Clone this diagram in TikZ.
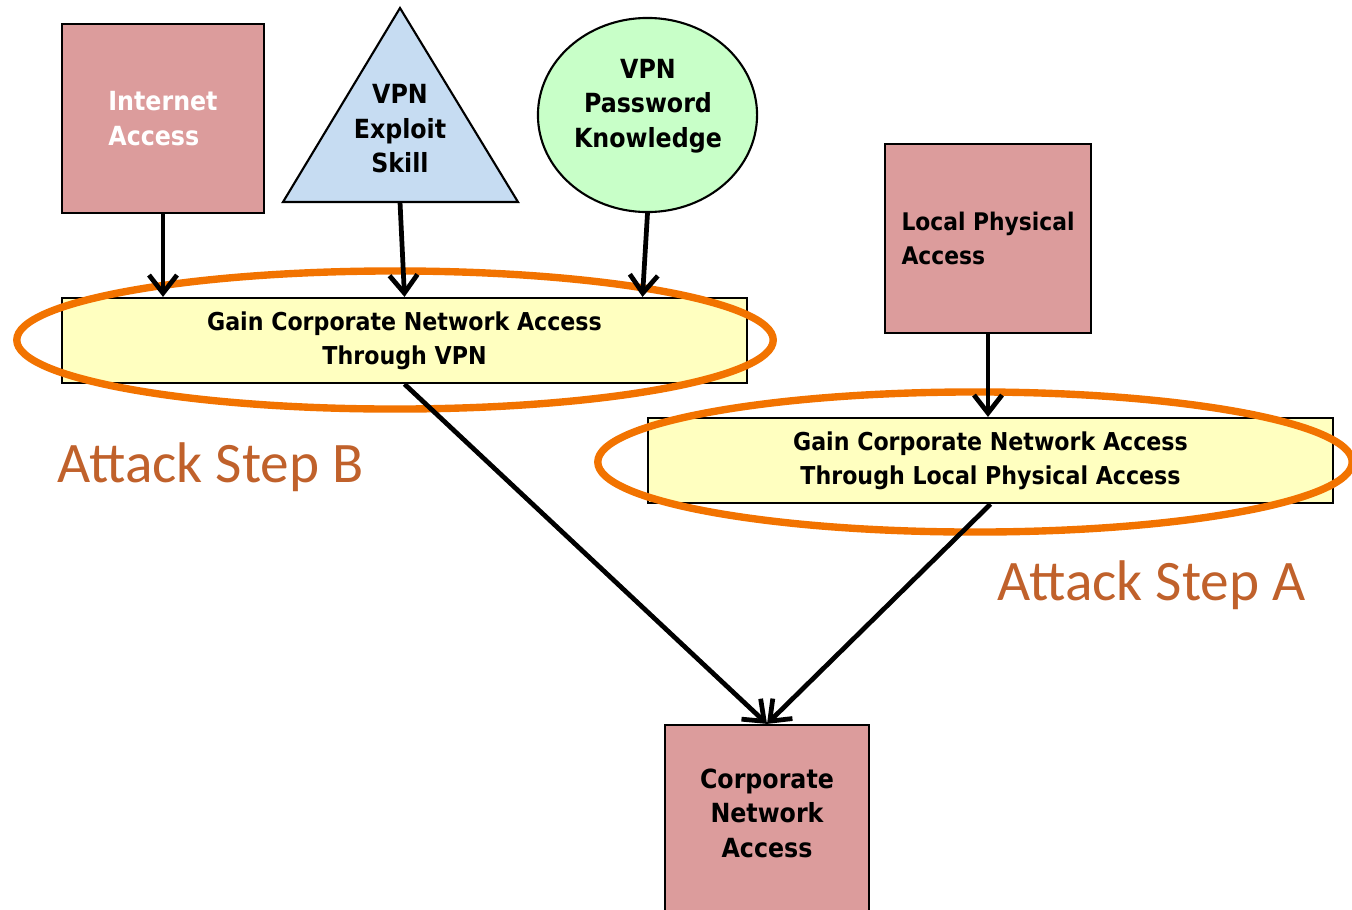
\documentclass[tikz,border=0pt]{standalone}
\usepackage{fontspec}
\usetikzlibrary{shapes.geometric,arrows.meta,calc}
\newfontfamily\labfont{DejaVu Sans Condensed}
\newfontfamily\stepfont{Carlito}
\definecolor{pinkfill}{HTML}{DC9C9C}
\definecolor{bluefill}{HTML}{C6DCF2}
\definecolor{greenfill}{HTML}{C8FFC8}
\definecolor{yellowfill}{HTML}{FFFFC0}
\definecolor{ringorange}{HTML}{F27300}
\definecolor{steptext}{HTML}{C0612B}
\tikzset{
  pinkbox/.style={draw=black, line width=0.6pt, fill=pinkfill, inner sep=0pt, align=center,
    font=\labfont\bfseries\fontsize{7.5}{9.8}\selectfont},
  stepbox/.style={draw=black, line width=0.6pt, fill=yellowfill, inner sep=0pt, align=center,
    minimum width=6.85cm, minimum height=0.85cm, font=\labfont\bfseries\fontsize{7}{9.6}\selectfont},
  shapetext/.style={inner sep=0pt, align=center, font=\labfont\bfseries\fontsize{7.5}{9.8}\selectfont},
  arr/.style={line width=1.35pt, -{Straight Barb[length=1.8mm,width=2.8mm]}},
  ring/.style={draw=ringorange, line width=2.1pt},
  steplabel/.style={anchor=base west, text=steptext, inner sep=0pt, font=\stepfont\fontsize{16.3}{20}\selectfont}
}
\begin{document}
\begin{tikzpicture}[x=0.01cm,y=-0.01cm]
\useasboundingbox (0,0) rectangle (1352,909);
% top-level nodes
\node[pinkbox, minimum width=2.02cm, minimum height=1.89cm, text=white, align=left] (inet) at (163,118.5) {Internet\\Access};
\filldraw[fill=bluefill, draw=black, line width=0.6pt] (400,8) -- (518,202) -- (283,202) -- cycle;
\coordinate (tribase) at (400,202);
\node[shapetext] (tri) at (400,129) {VPN\\Exploit\\Skill};
\node[ellipse, draw=black, line width=0.6pt, fill=greenfill, minimum width=2.19cm, minimum height=1.94cm, inner sep=0pt] (circ) at (647.5,115) {};
\node[shapetext] (circtext) at (648,106) {VPN\\Password\\Knowledge};
\node[pinkbox, minimum width=2.06cm, minimum height=1.89cm, align=left, font=\labfont\bfseries\fontsize{6.9}{9.8}\selectfont] (loc) at (988,238.5) {Local Physical\\Access};
% attack steps
\node[stepbox] (vpn) at (404.5,340.5) {Gain Corporate Network Access\\Through VPN};
\node[stepbox] (lpa) at (990.5,460.5) {Gain Corporate Network Access\\Through Local Physical Access};
% goal
\node[pinkbox, minimum width=2.04cm, minimum height=1.95cm] (corp) at (767,822.5) {};
\node[shapetext] (corptext) at (767,813) {Corporate\\Network\\Access};
% rings
\draw[ring] (395,340) ellipse [x radius=3.78cm, y radius=0.69cm];
\draw[ring] (975,462) ellipse [x radius=3.77cm, y radius=0.70cm];
% labels
\node[steplabel] (stepB) at (57,482) {Attack Step B};
\node[steplabel] (stepA) at (997,600) {Attack Step A};
% connectors
\draw[arr] (inet.south) -- (inet.south |- vpn.north);
\draw[arr] (tribase) -- (vpn.north);
\draw[arr] (circ.south) -- ([xshift=-0.05cm]circ.south |- vpn.north);
\draw[arr] (loc.south) -- (loc.south |- lpa.north);
\draw[arr] (vpn.south) -- (corp.north);
\draw[arr] (lpa.south) -- (corp.north);
\end{tikzpicture}
\end{document}
